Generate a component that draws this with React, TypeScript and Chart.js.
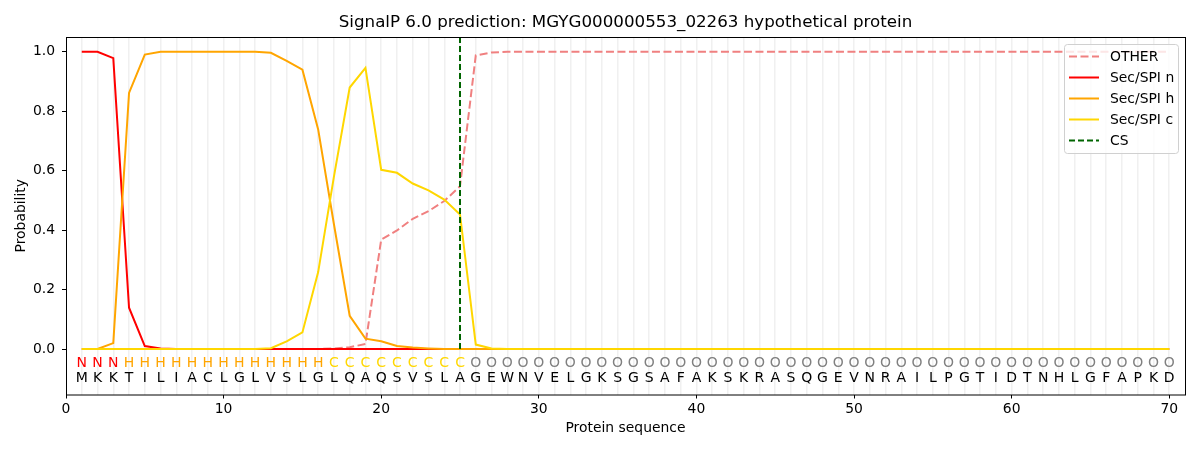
import React, { useEffect, useRef } from 'react'
import { Chart, registerables } from 'chart.js'

Chart.register(...registerables)

const sequence = 'MKKTILIACLGLVSLGLQAQSVSLAGEWNVELGKSGSAFAKSKRASQGEVNRAILPGTIDTNHLGFAPKD'.split('')
const regionLabels = 'NNNHHHHHHHHHHHHHCCCCCCCCCOOOOOOOOOOOOOOOOOOOOOOOOOOOOOOOOOOOOOOOOOOOOO'.split('')

const otherProb = [
  0, 0, 0, 0, 0, 0, 0, 0, 0, 0,
  0, 0, 0, 0, 0, 0, 0.002, 0.006, 0.017, 0.368,
  0.399, 0.438, 0.464, 0.498, 0.548, 0.988, 0.998, 1, 1, 1,
  1, 1, 1, 1, 1, 1, 1, 1, 1, 1,
  1, 1, 1, 1, 1, 1, 1, 1, 1, 1,
  1, 1, 1, 1, 1, 1, 1, 1, 1, 1,
  1, 1, 1, 1, 1, 1, 1, 1, 1, 1,
]
const nProb = [
  1, 1, 0.979, 0.139, 0.01, 0.002, 0, 0, 0, 0,
  0, 0, 0, 0, 0, 0, 0, 0, 0, 0,
  0, 0, 0, 0, 0, 0, 0, 0, 0, 0,
  0, 0, 0, 0, 0, 0, 0, 0, 0, 0,
  0, 0, 0, 0, 0, 0, 0, 0, 0, 0,
  0, 0, 0, 0, 0, 0, 0, 0, 0, 0,
  0, 0, 0, 0, 0, 0, 0, 0, 0, 0,
]
const hProb = [
  0, 0, 0.02, 0.862, 0.991, 1, 1, 1, 1, 1,
  1, 1, 0.997, 0.97, 0.94, 0.739, 0.42, 0.112, 0.035, 0.026,
  0.01, 0.005, 0.002, 0, 0, 0, 0, 0, 0, 0,
  0, 0, 0, 0, 0, 0, 0, 0, 0, 0,
  0, 0, 0, 0, 0, 0, 0, 0, 0, 0,
  0, 0, 0, 0, 0, 0, 0, 0, 0, 0,
  0, 0, 0, 0, 0, 0, 0, 0, 0, 0,
]
const cProb = [
  0, 0, 0, 0, 0, 0, 0, 0, 0, 0,
  0, 0, 0.003, 0.026, 0.056, 0.259, 0.58, 0.88, 0.946, 0.603,
  0.593, 0.557, 0.534, 0.503, 0.453, 0.015, 0.002, 0, 0, 0,
  0, 0, 0, 0, 0, 0, 0, 0, 0, 0,
  0, 0, 0, 0, 0, 0, 0, 0, 0, 0,
  0, 0, 0, 0, 0, 0, 0, 0, 0, 0,
  0, 0, 0, 0, 0, 0, 0, 0, 0, 0,
]
const cleavageSite = 25
const xTicks = [0, 10, 20, 30, 40, 50, 60, 70]
const yTicks = [0, 0.2, 0.4, 0.6, 0.8, 1.0]

const FONT = "'DejaVu Sans', sans-serif"
const labelColors: Record<string, string> = { N: '#ff0000', H: '#ffa500', C: '#ffd700', O: '#808080' }

const toPoints = (arr: number[]) => arr.map((y, i) => ({ x: i + 1, y }))

const overlay = {
  id: 'overlay',
  afterDatasetsDraw(chart: any) {
    const { ctx, chartArea, scales } = chart
    const xs = scales.x
    const ys = scales.y
    ctx.save()
    ctx.textAlign = 'center'
    ctx.textBaseline = 'middle'
    ctx.font = `14px ${FONT}`
    sequence.forEach((aa, i) => {
      const px = xs.getPixelForValue(i + 1)
      ctx.fillStyle = labelColors[regionLabels[i]]
      ctx.fillText(regionLabels[i], px, ys.getPixelForValue(-0.047))
      ctx.fillStyle = '#000000'
      ctx.fillText(aa, px, ys.getPixelForValue(-0.098))
    })

    // frame
    ctx.strokeStyle = '#000000'
    ctx.lineWidth = 1
    ctx.strokeRect(chartArea.left + 0.5, chartArea.top + 0.5, chartArea.right - chartArea.left, chartArea.bottom - chartArea.top)

    // title and axis titles
    const cx = (chartArea.left + chartArea.right) / 2
    ctx.fillStyle = '#000000'
    ctx.font = `16.7px ${FONT}`
    ctx.fillText('SignalP 6.0 prediction: MGYG000000553_02263 hypothetical protein', cx, 23)
    ctx.font = `13.9px ${FONT}`
    ctx.fillText('Protein sequence', cx, 428)
    ctx.save()
    ctx.translate(21, (chartArea.top + chartArea.bottom) / 2)
    ctx.rotate(-Math.PI / 2)
    ctx.fillText('Probability', 0, 0)
    ctx.restore()

    // legend
    const lx = 1064
    const ly = 44
    const lw = 114
    const lh = 109
    ctx.beginPath()
    ctx.roundRect(lx + 0.5, ly + 0.5, lw, lh, 3)
    ctx.fillStyle = 'rgba(255,255,255,0.8)'
    ctx.fill()
    ctx.strokeStyle = '#d0d0d0'
    ctx.stroke()
    ctx.textAlign = 'left'
    chart.data.datasets.forEach((ds: any, i: number) => {
      const ry = 56.5 + i * 21
      ctx.beginPath()
      ctx.setLineDash(ds.borderDash || [])
      ctx.strokeStyle = ds.borderColor
      ctx.lineWidth = 2
      ctx.moveTo(1069, ry)
      ctx.lineTo(1099, ry)
      ctx.stroke()
      ctx.setLineDash([])
      ctx.fillStyle = '#000000'
      ctx.fillText(ds.label, 1110, ry + 1)
    })
    ctx.restore()
  },
}

export default function App() {
  const canvasRef = useRef<HTMLCanvasElement>(null)
  const chartRef = useRef<Chart | null>(null)

  useEffect(() => {
    document.body.style.margin = '0'
    if (!canvasRef.current) return
    if (chartRef.current) chartRef.current.destroy()

    const line = (label: string, data: number[], color: string, order: number, dash?: number[]) => ({
      label,
      data: toPoints(data),
      borderColor: color,
      backgroundColor: color,
      borderWidth: 2,
      borderDash: dash,
      pointRadius: 0,
      tension: 0,
      order,
    })

    chartRef.current = new Chart(canvasRef.current, {
      type: 'line',
      data: {
        datasets: [
          line('OTHER', otherProb, '#f08080', 5, [8, 3.5]),
          line('Sec/SPI n', nProb, '#ff0000', 4),
          line('Sec/SPI h', hProb, '#ffa500', 3),
          line('Sec/SPI c', cProb, '#ffd700', 2),
          {
            ...line('CS', [], '#006400', 1, [6, 3]),
            data: [{ x: cleavageSite, y: 0 }, { x: cleavageSite, y: 1.05 }],
          },
        ],
      },
      options: {
        animation: false,
        responsive: false,
        maintainAspectRatio: false,
        layout: { padding: { top: 37, right: 15, left: 0, bottom: 0 } },
        plugins: { legend: { display: false }, title: { display: false }, tooltip: { enabled: false } },
        scales: {
          x: {
            type: 'linear',
            min: 0,
            max: 71,
            afterBuildTicks: (s: any) => { s.ticks = xTicks.map((value) => ({ value })) },
            afterFit: (s: any) => { s.height = 55.5 },
            grid: { drawOnChartArea: false, drawTicks: true, tickLength: 4, color: '#000000' },
            border: { display: false },
            ticks: { font: { family: FONT, size: 13.9 }, color: '#000000', padding: 3, maxRotation: 0 },
          },
          xg: {
            type: 'linear',
            min: 0,
            max: 71,
            position: 'bottom',
            display: true,
            afterBuildTicks: (s: any) => { s.ticks = sequence.map((_, i) => ({ value: i + 1 })) },
            afterFit: (s: any) => { s.height = 0 },
            grid: { drawOnChartArea: true, drawTicks: false, color: '#f0f0f0', lineWidth: 1.5 },
            border: { display: false },
            ticks: { display: false },
          },
          y: {
            type: 'linear',
            min: -0.153,
            max: 1.05,
            afterBuildTicks: (s: any) => { s.ticks = yTicks.map((value) => ({ value })) },
            afterFit: (s: any) => { s.width = 66 },
            grid: { drawOnChartArea: false, drawTicks: true, tickLength: 4, color: '#000000' },
            border: { display: false },
            ticks: {
              font: { family: FONT, size: 13.9 },
              color: '#000000',
              padding: 7,
              callback: (v: any) => Number(v).toFixed(1),
            },
          },
        },
      },
      plugins: [overlay],
    } as any)

    return () => chartRef.current?.destroy()
  }, [])

  return (
    <div style={{ width: 1200, height: 450 }}>
      <canvas ref={canvasRef} width={1200} height={450} style={{ width: 1200, height: 450 }} />
    </div>
  )
}
